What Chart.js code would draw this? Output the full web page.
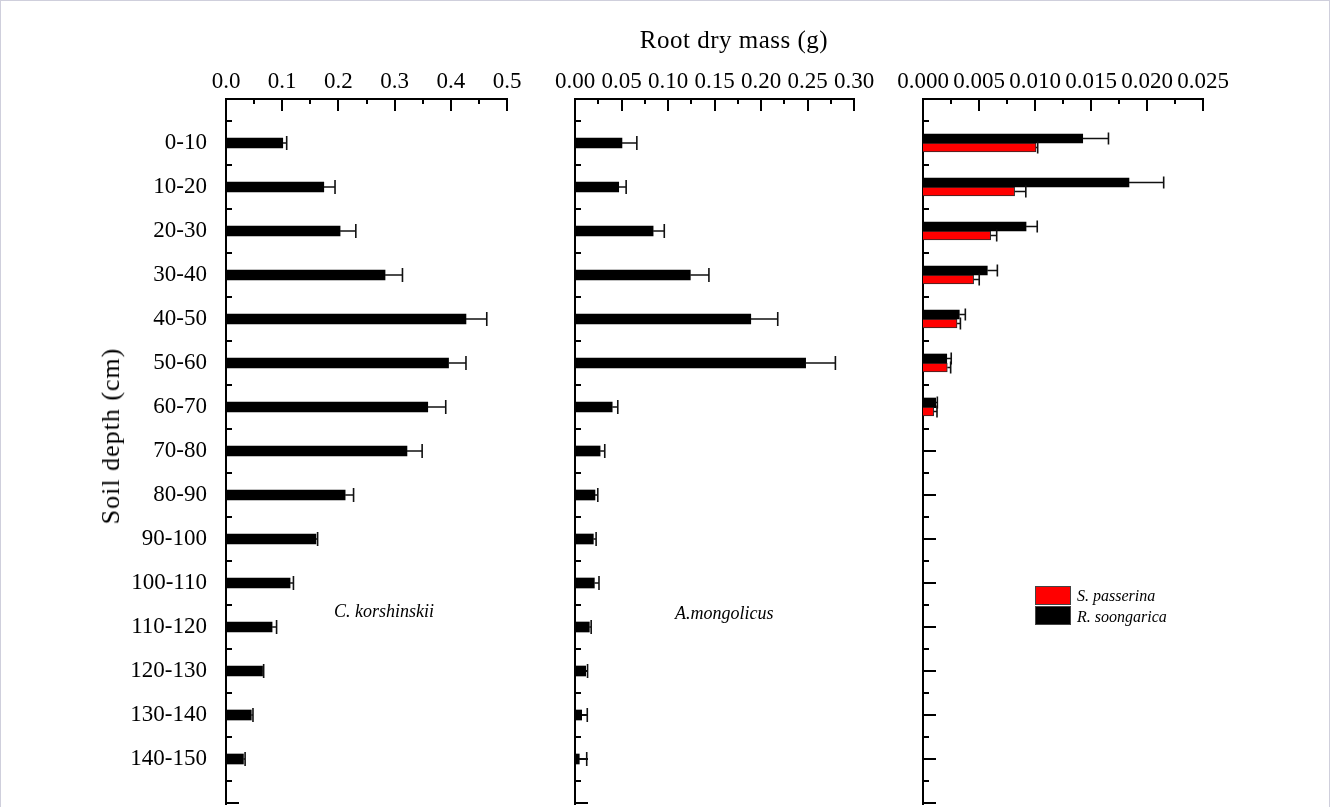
<!DOCTYPE html>
<html>
<head>
<meta charset="utf-8">
<title>Root dry mass by soil depth</title>
<script src="https://cdn.jsdelivr.net/npm/chart.js@4.4.1/dist/chart.umd.min.js"></script>
<style>
  html, body { margin: 0; padding: 0; background: #fff; }
  #fig { position: relative; width: 1330px; height: 807px; overflow: hidden;
         font-family: "Liberation Serif", "Times New Roman", serif; color: #000; }
  .frame { position: absolute; left: 0; top: 0; width: 1328px; height: 830px;
           border: 1px solid #cfcfdc; box-sizing: content-box; }
  canvas { position: absolute; top: 0; }
  .txt { position: absolute; white-space: nowrap; }
  .title { font-size: 25px; line-height: 25px; letter-spacing: 0.5px; transform: translateX(-50%); }
  .ytitle { font-size: 26px; line-height: 26px; letter-spacing: 1px;
            transform: translate(-50%, -50%) rotate(-90deg); }
  .species { font-size: 18px; line-height: 18px; font-style: italic; }
  .legend-item { font-size: 16px; line-height: 16px; font-style: italic; }
  .swatch { position: absolute; width: 34px; height: 17px; border: 1px solid #444; }
</style>
</head>
<body>
<div id="fig">
  <div class="frame"></div>
  <canvas id="pC" width="530" height="807" style="left:0px"></canvas>
  <canvas id="pA" width="345" height="807" style="left:540px"></canvas>
  <canvas id="pS" width="440" height="807" style="left:890px"></canvas>

  <div class="txt title" style="left:734px; top:27px;">Root dry mass (g)</div>
  <div class="txt ytitle" style="left:111px; top:436px;">Soil depth (cm)</div>
  <div class="txt species" style="left:334px; top:602px;">C. korshinskii</div>
  <div class="txt species" style="left:675px; top:604px;">A.mongolicus</div>

  <div class="swatch" style="left:1035px; top:586px; background:#ff0000;"></div>
  <div class="swatch" style="left:1035px; top:606px; background:#000;"></div>
  <div class="txt legend-item" style="left:1077px; top:588px;">S. passerina</div>
  <div class="txt legend-item" style="left:1077px; top:609px;">R. soongarica</div>
</div>

<script>
// Soil depth classes (cm), top to bottom
const depthLabels = ['0-10', '10-20', '20-30', '30-40', '40-50', '50-60', '60-70', '70-80',
                     '80-90', '90-100', '100-110', '110-120', '120-130', '130-140', '140-150'];

// Caragana korshinskii: mean root dry mass (g) and standard error
const korshinskiiMass = [0.101, 0.174, 0.203, 0.283, 0.427, 0.396, 0.359, 0.322,
                         0.212, 0.160, 0.114, 0.082, 0.065, 0.045, 0.031];
const korshinskiiErr  = [0.007, 0.020, 0.028, 0.031, 0.037, 0.031, 0.032, 0.027,
                         0.015, 0.003, 0.006, 0.008, 0.002, 0.003, 0.003];

// Ammopiptanthus mongolicus
const mongolicusMass = [0.0505, 0.047, 0.084, 0.124, 0.189, 0.248, 0.040, 0.027,
                        0.0215, 0.0197, 0.0208, 0.0154, 0.0115, 0.0072, 0.0046];
const mongolicusErr  = [0.016, 0.008, 0.012, 0.020, 0.029, 0.032, 0.006, 0.005,
                        0.003, 0.003, 0.005, 0.002, 0.002, 0.006, 0.008];

// Reaumuria soongarica and Salsola passerina (roots only down to 70 cm)
const soongaricaMass = [0.01426, 0.01839, 0.00920, 0.00574, 0.00324, 0.00212, 0.00113];
const soongaricaErr  = [0.0023, 0.0031, 0.0010, 0.0009, 0.00054, 0.0004, 0.00015];
const passerinaMass  = [0.01009, 0.00818, 0.00604, 0.00452, 0.00304, 0.00217, 0.00095];
const passerinaErr   = [0.00015, 0.0010, 0.00054, 0.0005, 0.0003, 0.0003, 0.0003];

// Axis tick settings per panel
const massAxisC = { max: 0.5,   step: 0.1,   decimals: 1 };
const massAxisA = { max: 0.30,  step: 0.05,  decimals: 2 };
const massAxisS = { max: 0.025, step: 0.005, decimals: 3 };

Chart.defaults.font.family = '"Liberation Serif", "Times New Roman", serif';
Chart.defaults.color = '#000';

function toPoints(values) {
  return values.map((v, i) => ({ x: v, y: i + 1 }));
}

// Inward-pointing major/minor tick marks and the two axis lines
const tickMarks = {
  id: 'tickMarks',
  beforeDatasetsDraw(chart, _args, opts) {
    const { ctx, chartArea: a } = chart;
    const xs = chart.scales.x, ys = chart.scales.y;
    ctx.save();
    ctx.strokeStyle = '#000';
    ctx.lineWidth = 2;
    ctx.beginPath();
    ctx.moveTo(a.left - 1, a.top); ctx.lineTo(a.right + 1, a.top);
    ctx.moveTo(a.left, a.top - 1); ctx.lineTo(a.left, a.bottom + 2);
    const half = opts.step / 2;
    const n = Math.round(xs.max / half);
    for (let k = 0; k <= n; k++) {
      const px = Math.round(xs.getPixelForValue(k * half));
      const len = k % 2 === 0 ? 12 : 5;
      ctx.moveTo(px, a.top); ctx.lineTo(px, a.top + len);
    }
    const m = Math.round(ys.max * 2);
    for (let k = 1; k <= m; k++) {
      const py = Math.round(ys.getPixelForValue(k / 2));
      const len = k % 2 === 0 ? 13 : 6;
      ctx.moveTo(a.left, py); ctx.lineTo(a.left + len, py);
    }
    ctx.stroke();
    ctx.restore();
  }
};

// One-sided (+SE) error bars with end caps
const errorBars = {
  id: 'errorBars',
  afterDatasetsDraw(chart, _args, opts) {
    const { ctx } = chart;
    const xs = chart.scales.x;
    ctx.save();
    ctx.strokeStyle = '#111';
    ctx.lineWidth = 1.6;
    chart.data.datasets.forEach((ds, i) => {
      const meta = chart.getDatasetMeta(i);
      const errs = opts.errors[i];
      meta.data.forEach((bar, j) => {
        const end = xs.getPixelForValue(ds.data[j].x + errs[j]);
        ctx.beginPath();
        ctx.moveTo(bar.x, bar.y); ctx.lineTo(end, bar.y);
        ctx.moveTo(end, bar.y - opts.cap); ctx.lineTo(end, bar.y + opts.cap);
        ctx.stroke();
      });
    });
    ctx.restore();
  }
};

function makePanel(id, cfg) {
  const canvas = document.getElementById(id);
  const areaRight = canvas.width - cfg.yAxisWidth - cfg.areaWidth;
  return new Chart(canvas, {
    type: 'bar',
    data: { datasets: cfg.datasets },
    options: {
      indexAxis: 'y',
      responsive: false,
      animation: false,
      devicePixelRatio: 1,
      layout: { padding: { left: 0, top: 0, right: areaRight, bottom: 4 } },
      plugins: {
        legend: { display: false },
        tooltip: { enabled: false },
        tickMarks: { step: cfg.axis.step },
        errorBars: { errors: cfg.errors, cap: cfg.cap }
      },
      scales: {
        x: {
          type: 'linear',
          position: 'top',
          min: 0,
          max: cfg.axis.max,
          grid: { display: false, drawTicks: false },
          border: { display: false },
          ticks: {
            stepSize: cfg.axis.step,
            autoSkip: false,
            maxRotation: 0,
            minRotation: 0,
            padding: 3,
            font: { size: 23 },
            callback: v => Number(v).toFixed(cfg.axis.decimals)
          },
          afterFit(s) { s.height = 99; s.paddingLeft = 0; s.paddingRight = 0; }
        },
        y: {
          type: 'linear',
          reverse: true,
          offset: false,
          min: 0,
          max: 16,
          grid: { display: false, drawTicks: false, offset: false },
          border: { display: false },
          ticks: {
            display: cfg.showDepth,
            stepSize: 1,
            autoSkip: false,
            padding: 19,
            font: { size: 23 },
            callback: v => depthLabels[v - 1] || ''
          },
          afterFit(s) { s.width = cfg.yAxisWidth; s.paddingTop = 0; s.paddingBottom = 0; }
        }
      }
    },
    plugins: [tickMarks, errorBars]
  });
}

makePanel('pC', {
  axis: massAxisC, yAxisWidth: 226, areaWidth: 281, showDepth: true, cap: 7,
  errors: [korshinskiiErr],
  datasets: [{ label: 'C. korshinskii', data: toPoints(korshinskiiMass),
               backgroundColor: '#000', borderWidth: 0, barThickness: 10 }]
});

makePanel('pA', {
  axis: massAxisA, yAxisWidth: 35, areaWidth: 279, showDepth: false, cap: 7,
  errors: [mongolicusErr],
  datasets: [{ label: 'A. mongolicus', data: toPoints(mongolicusMass),
               backgroundColor: '#000', borderWidth: 0, barThickness: 10 }]
});

makePanel('pS', {
  axis: massAxisS, yAxisWidth: 33, areaWidth: 280, showDepth: false, cap: 6,
  errors: [soongaricaErr, passerinaErr],
  datasets: [
    { label: 'R. soongarica', data: toPoints(soongaricaMass),
      backgroundColor: '#000', borderWidth: 0, barThickness: 9 },
    { label: 'S. passerina', data: toPoints(passerinaMass),
      backgroundColor: '#ff0000', borderColor: '#2a2a2a', borderWidth: 1, barThickness: 9 }
  ]
});
</script>
</body>
</html>
